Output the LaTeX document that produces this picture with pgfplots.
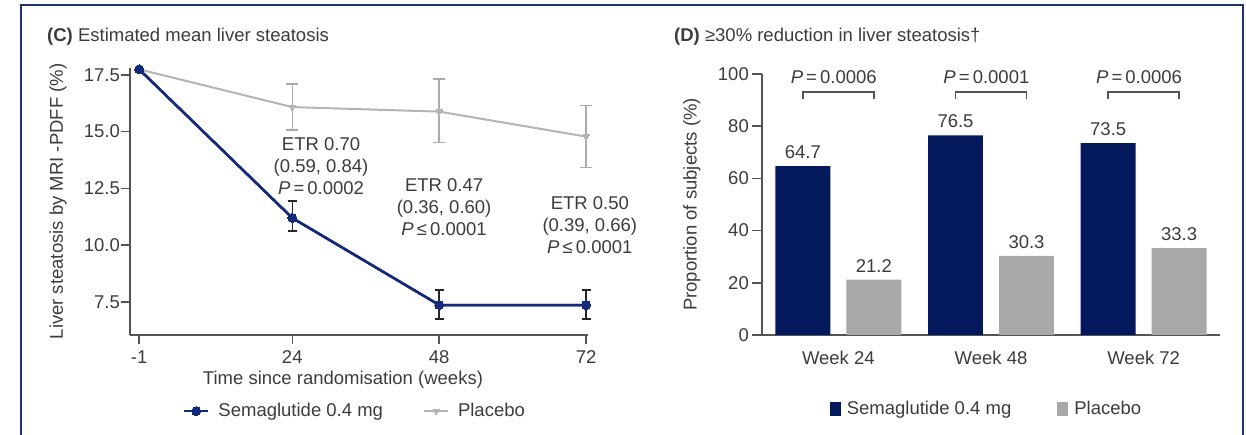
\documentclass[border=0pt]{standalone}
\usepackage{fontspec}
\setmainfont{Liberation Sans}
\usepackage{pgfplots}
\pgfplotsset{compat=1.18}
\definecolor{navybar}{HTML}{03195C}
\definecolor{navyline}{HTML}{13297A}
\definecolor{greybar}{HTML}{A8A8A8}
\definecolor{greyline}{HTML}{B4B4B4}
\definecolor{greyerr}{HTML}{ABABAB}
\definecolor{txt}{HTML}{3C3C3C}
\definecolor{axisc}{HTML}{555555}
\definecolor{framec}{HTML}{1D3473}
\newcommand\fs{\fontsize{18.5}{22}\selectfont}
\begin{document}
\fs
\begin{tikzpicture}[x=1pt,y=1pt]
\path[use as bounding box] (0,0) rectangle (1246,435);
\draw[framec, line width=2.2pt] (21,-10) -- (21,430) -- (1243,430) -- (1243,-10);
\node[anchor=west, inner sep=0pt, text=txt] at (47,398) {\textbf{(C)} Estimated mean liver steatosis};
\node[anchor=west, inner sep=0pt, text=txt] at (674,398) {\textbf{(D)} ≥30\% reduction in liver steatosis†};

% ---------------- Panel C ----------------
\begin{axis}[
  at={(130pt,100pt)}, anchor=south west, scale only axis,
  width=458pt, height=267pt,
  xmin=-2.5, xmax=72.3, ymin=6.05, ymax=17.8,
  axis x line*=bottom, axis y line*=left,
  axis line style={-, draw=axisc, line width=1.5pt},
  xtick={-1,24,48,72}, xticklabels={-1,24,48,72},
  ytick={7.5,10,12.5,15,17.5}, yticklabels={7.5,10.0,12.5,15.0,17.5},
  tick align=outside, major tick length=9pt,
  tick style={draw=axisc, line width=1.5pt},
  tick label style={text=txt, font=\fs},
  yticklabel style={inner sep=1pt},
  xlabel={Time since randomisation (weeks)},
  ylabel={Liver steatosis by MRI -PDFF (\%)},
  xlabel style={at={(axis description cs:0.465,-0.1685)}, anchor=center, text=txt, font=\fs},
  ylabel style={at={(axis description cs:-0.157,0.5)}, anchor=center, text=txt, font=\fs},
  clip=false,
  legend columns=2,
  legend style={at={(axis description cs:0.1157,-0.285)}, anchor=west, draw=none, fill=none,
    inner sep=0pt, outer sep=0pt, text=txt, font=\fs,
    /tikz/every odd column/.append style={column sep=7pt},
    /tikz/every even column/.append style={column sep=38pt}},
  legend cell align=left,
  legend image code/.code={\draw[mark repeat=2,mark phase=2,#1] plot coordinates {(0pt,0pt) (12pt,0pt) (24pt,0pt)};},
]
\addplot[navyline, line width=2.5pt, mark=*, mark size=4.5pt,
  mark options={fill=navyline, draw=navyline, line width=0pt}]
  coordinates {(-1,17.74) (24,11.2) (48,7.37) (72,7.37)};
\addlegendentry{Semaglutide 0.4 mg}
\addplot[greyline, line width=2pt, mark=triangle*, mark size=3.5pt,
  mark options={fill=greyline, draw=greyline, rotate=180, line width=0pt},
  error bars/.cd, y dir=both, y explicit,
  error bar style={line width=1.5pt, greyerr},
  error mark options={rotate=90, mark size=6pt, line width=1.5pt, greyerr}]
  coordinates {(-1,17.74) (24,16.08) += (0,1.02) -= (0,1.01)
               (48,15.88) += (0,1.44) -= (0,1.35)
               (72,14.78) += (0,1.36) -= (0,1.37)};
\addlegendentry{Placebo}
\addplot[navyline, line width=2.5pt, mark=*, mark size=4.5pt, forget plot,
  mark options={fill=navyline, draw=navyline, line width=0pt},
  error bars/.cd, y dir=both, y explicit,
  error bar style={line width=1.5pt, black!85},
  error mark options={rotate=90, mark size=4.5pt, line width=1.5pt, black!85}]
  coordinates {(-1,17.74) (24,11.2) += (0,0.75) -= (0,0.57)
               (48,7.37) += (0,0.66) -= (0,0.62)
               (72,7.37) += (0,0.66) -= (0,0.62)};
\node[align=center, text=txt, inner sep=0pt] at (axis cs:28.7,13.49) {ETR 0.70\\(0.59, 0.84)\\\textit{P}\,=\,0.0002};
\node[align=center, text=txt, inner sep=0pt] at (axis cs:48.8,11.68) {ETR 0.47\\(0.36, 0.60)\\\textit{P}\,≤\,0.0001};
\node[align=center, text=txt, inner sep=0pt] at (axis cs:72.6,10.89) {ETR 0.50\\(0.39, 0.66)\\\textit{P}\,≤\,0.0001};
\end{axis}

% ---------------- Panel D ----------------
\begin{axis}[
  at={(762pt,100pt)}, anchor=south west, scale only axis,
  width=458pt, height=261pt,
  xmin=-0.5, xmax=2.5, ymin=0, ymax=100,
  axis x line*=bottom, axis y line*=left,
  axis line style={-, draw=axisc, line width=1.5pt},
  xtick={0,1,2}, xticklabels={Week 24,Week 48,Week 72},
  ytick={0,20,40,60,80,100}, yticklabels={0,20,40,60,80,100},
  tick align=outside, major tick length=10pt,
  tick style={draw=axisc, line width=1.5pt},
  major x tick style={draw=none},
  tick label style={text=txt, font=\fs},
  yticklabel style={inner sep=3pt},
  ylabel={Proportion of subjects (\%)},
  ylabel style={at={(axis description cs:-0.153,0.5)}, anchor=center, text=txt, font=\fs},
  ybar, bar width=0.36,
  /pgf/number format/assume math mode=true,
  nodes near coords,
  nodes near coords style={text=txt, font=\fs, /pgf/number format/fixed, /pgf/number format/precision=1, yshift=1pt},
  clip=false,
  legend columns=2,
  legend style={at={(axis description cs:0.148,-0.2835)}, anchor=west, draw=none, fill=none,
    inner sep=0pt, outer sep=0pt, text=txt, font=\fs,
    /tikz/every odd column/.append style={column sep=4pt},
    /tikz/every even column/.append style={column sep=44pt}},
  legend cell align=left,
  legend image code/.code={\fill[#1] (0pt,-7pt) rectangle (11pt,7pt);},
]
\addplot[fill=navybar, draw=none, bar shift=-0.2325] coordinates {(0,64.7) (1,76.5) (2,73.5)};
\addlegendentry{Semaglutide 0.4 mg}
\addplot[fill=greybar, draw=none, bar shift=0.2325] coordinates {(0,21.2) (1,30.3) (2,33.3)};
\addlegendentry{Placebo}
\foreach \g in {0,1,2} {
  \edef\temp{\noexpand\draw[axisc, line width=1.5pt] (axis cs:\g-0.2325,90.4) -- (axis cs:\g-0.2325,93.1) -- (axis cs:\g+0.2325,93.1) -- (axis cs:\g+0.2325,90.4);}
  \temp
}
\node[text=txt, inner sep=0pt] at (axis cs:-0.03,98.85) {\textit{P}\,=\,0.0006};
\node[text=txt, inner sep=0pt] at (axis cs:0.97,98.85) {\textit{P}\,=\,0.0001};
\node[text=txt, inner sep=0pt] at (axis cs:1.97,98.85) {\textit{P}\,=\,0.0006};
\end{axis}
\end{tikzpicture}
\end{document}
